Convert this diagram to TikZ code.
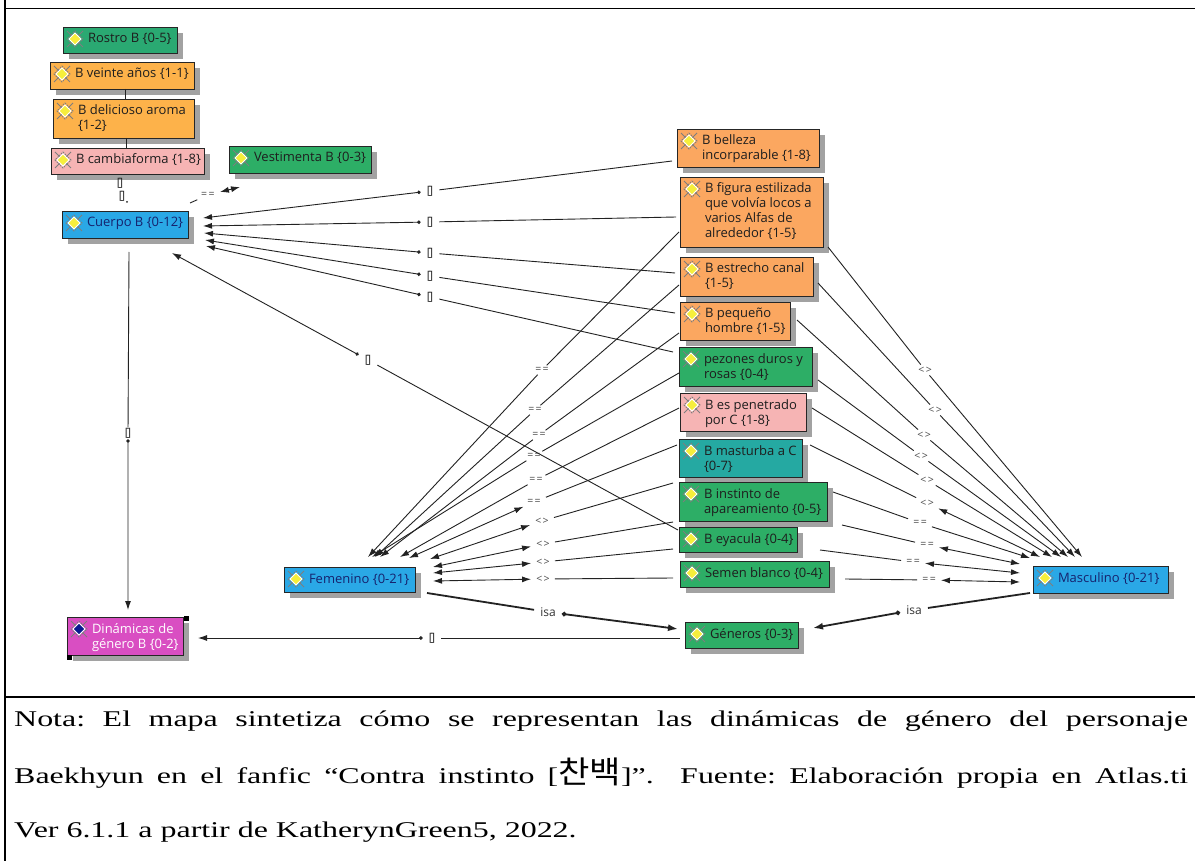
\documentclass[tikz,border=0pt]{standalone}
\usepackage{fontspec}
\setmainfont{Liberation Serif}
\newfontfamily\uifont{Open Sans}
\newfontfamily\capfont[FakeStretch=1.42]{Liberation Serif}
\newfontfamily\krfont[FakeStretch=1.1]{Noto Sans CJK KR}
\usetikzlibrary{arrows.meta,calc}

\definecolor{cGreen}{HTML}{2DAE66}
\definecolor{cGreenR}{HTML}{2AA972}
\definecolor{cOrY}{HTML}{FDB24A}
\definecolor{cOr}{HTML}{FBA760}
\definecolor{cPink}{HTML}{F6B4B4}
\definecolor{cTeal}{HTML}{25A9A2}
\definecolor{cBlue}{HTML}{2AA8E6}
\definecolor{cMag}{HTML}{D94EC2}
\definecolor{cShadow}{HTML}{A2A2A2}
\definecolor{cLine}{HTML}{222222}
\definecolor{cLabel}{HTML}{4A4A4A}
\definecolor{cNavy}{HTML}{16226E}
\definecolor{cTxt}{HTML}{1E1E1E}
\definecolor{cYel}{HTML}{F6EE3C}
\definecolor{cDBlue}{HTML}{0A1890}
\definecolor{cIconG}{HTML}{7E7E7E}

\tikzset{
  boxst/.style={rectangle, draw=black!85, line width=0.9pt, inner sep=0pt, outer sep=0pt},
  ctext/.style={font=\uifont\fontsize{13}{15}\selectfont, inner sep=0pt, outer sep=0pt, align=left},
  conn/.style={draw=cLine, line width=0.9pt},
  arrE/.style={-{Latex[length=9pt,width=6pt]}},
  arrBoth/.style={{Latex[length=9pt,width=6pt]}-{Latex[length=9pt,width=6pt]}},
  arrDot/.style={{Circle[length=3.5pt]}-{Latex[length=9pt,width=6pt]}},
  isaln/.style={draw=cLine, line width=1.8pt, {Circle[length=4.5pt]}-{Latex[length=10pt,width=7pt]}},
  lab/.style={font=\uifont\fontsize{10.5}{12}\selectfont, text=cLabel, inner xsep=5pt, inner ysep=2pt},
  tof/.style={font=\uifont\fontsize{11.5}{12}\selectfont, text=black!85, inner xsep=6pt, inner ysep=1pt},
  isal/.style={font=\uifont\fontsize{12}{13}\selectfont, text=black!80, inner xsep=6pt, inner ysep=1pt},
  icon/.pic={
    \draw[cIconG, line width=1pt] (-8,-8) -- (-3,-3) (8,-8) -- (3,-3)
      (-8,8) -- (-3,3) (8,8) -- (3,3);
    \draw[cIconG, line width=1pt, dash pattern=on 1.5pt off 1pt] (0,-8) -- (8,0) -- (0,8) -- (-8,0) -- cycle;
    \filldraw[fill=#1, draw=white, line width=1pt] (0,-6) -- (6,0) -- (0,6) -- (-6,0) -- cycle;
  }
}

\newcommand\nw[3]{($(#1.north west)+(#2,#3)$)}
\newcommand\tofu{[\kern-1.2pt]}
\newcommand\eqq{=\kern1.5pt=}
\newcommand\neqq{<\kern1.5pt>}
\newcommand\cbox[9]{%
  \fill[cShadow] (#2+6,#3+6) rectangle (#4+6,#5+6);
  \node[boxst, fill=#6, minimum width={#4-#2}, minimum height={#5-#3}] (#1) at ({(#2+#4)/2},{(#3+#5)/2}) {};
  \pic at ($(#1.north west)+(12,12)$) {icon=#9};
  \node[ctext, text=#7, anchor=north west] (#1-t) at ($(#1.north west)+(25,5)$) {\rule{0pt}{11pt}#8};
}

\begin{document}
\begin{tikzpicture}[x=1pt,y=-1pt]
\useasboundingbox (0,0) rectangle (1195,861);
\fill[white] (0,0) rectangle (1195,861);

% frame
\draw[black, line width=1.5pt] (5,0) -- (5,861);
\draw[black, line width=1pt] (5,9) -- (1195,9);
\draw[black, line width=2pt] (5,697) -- (1195,697);

% code boxes
\cbox{rostro}{63}{27}{177}{53}{cGreenR}{cTxt}{Rostro B \{0-5\}}{cYel}
\cbox{veinte}{50}{62}{194}{89}{cOrY}{cTxt}{B veinte años \{1-1\}}{cYel}
\cbox{delicioso}{53}{99}{194}{138}{cOrY}{cTxt}{B delicioso aroma\\\{1-2\}}{cYel}
\cbox{cambia}{51}{148}{204}{174}{cPink}{cTxt}{B cambiaforma \{1-8\}}{cYel}
\cbox{vest}{229}{146}{371}{173}{cGreen}{cTxt}{Vestimenta B \{0-3\}}{cYel}
\cbox{cuerpo}{62}{211}{188}{238}{cBlue}{cNavy}{Cuerpo B \{0-12\}}{cYel}
\cbox{belleza}{677}{129}{819}{167}{cOr}{cTxt}{B belleza\\incorparable \{1-8\}}{cYel}
\cbox{figura}{680}{177}{823}{247}{cOr}{cTxt}{B figura estilizada\\que volvía locos a\\varios Alfas de\\alrededor \{1-5\}}{cYel}
\cbox{estrecho}{680}{257}{813}{296}{cOr}{cTxt}{B estrecho canal\\\{1-5\}}{cYel}
\cbox{pequeno}{680}{302}{790}{340}{cOr}{cTxt}{B pequeño\\hombre \{1-5\}}{cYel}
\cbox{pezones}{679}{347}{812}{386}{cGreen}{cTxt}{pezones duros y\\rosas \{0-4\}}{cYel}
\cbox{penetrado}{680}{393}{806}{431}{cPink}{cTxt}{B es penetrado\\por C \{1-8\}}{cYel}
\cbox{masturba}{679}{439}{802}{477}{cTeal}{cTxt}{B masturba a C\\\{0-7\}}{cYel}
\cbox{instinto}{679}{482}{827}{521}{cGreen}{cTxt}{B instinto de\\apareamiento \{0-5\}}{cYel}
\cbox{eyacula}{679}{527}{797}{552}{cGreen}{cTxt}{B eyacula \{0-4\}}{cYel}
\cbox{semen}{680}{561}{829}{587}{cGreen}{cTxt}{Semen blanco \{0-4\}}{cYel}
\cbox{generos}{685}{622}{798}{648}{cGreen}{cTxt}{Géneros \{0-3\}}{cYel}
\cbox{femenino}{284}{567}{415}{592}{cBlue}{cNavy}{Femenino \{0-21\}}{cYel}
\cbox{masculino}{1033}{566}{1168}{593}{cBlue}{cNavy}{Masculino \{0-21\}}{cYel}
\cbox{dinamicas}{67}{617}{183}{655}{cMag}{white}{Dinámicas de\\género B \{0-2\}}{cDBlue}
\fill[black] (184,616) rectangle (189,621);
\fill[black] (67,655) rectangle (72,660);

% labels
\node[tof] (lc1) at (430,191) {\tofu};
\node[tof] (lc2) at (430,222) {\tofu};
\node[tof] (lc3) at (430,253) {\tofu};
\node[tof] (lc4) at (430,276) {\tofu};
\node[tof] (lc5) at (430,297) {\tofu};
\node[tof] (lc6) at (368,360) {\tofu};
\node[tof] (lcd) at (128,433) {\tofu};
\node[tof] (lgd) at (432,638) {\tofu};
\node[tof] (lcam1) at (120,183) {\tofu};
\node[tof] (lcam2) at (122,196) {\tofu};
\node[lab] (lvest) at (208,195) {\eqq};

\node[lab] (lf1) at (542,370) {\eqq};
\node[lab] (lf2) at (535,410) {\eqq};
\node[lab] (lf3) at (539,435) {\eqq};
\node[lab] (lf4) at (534,456) {\eqq};
\node[lab] (lf5) at (536,480) {\eqq};
\node[lab] (lf6) at (534,502) {\eqq};
\node[lab] (lf7) at (542,521) {\neqq};
\node[lab] (lf8) at (543,544) {\neqq};
\node[lab] (lf9) at (543,562) {\neqq};
\node[lab] (lf10) at (543,579) {\neqq};

\node[lab] (lm1) at (925,370) {\neqq};
\node[lab] (lm2) at (935,410) {\neqq};
\node[lab] (lm3) at (924,435) {\neqq};
\node[lab] (lm4) at (921,456) {\neqq};
\node[lab] (lm5) at (927,480) {\neqq};
\node[lab] (lm6) at (927,503) {\neqq};
\node[lab] (lm7) at (920,523) {\eqq};
\node[lab] (lm8) at (927,545) {\eqq};
\node[lab] (lm9) at (913,562) {\eqq};
\node[lab] (lm10) at (929,580) {\eqq};

\node[isal] (li1) at (548,612) {isa};
\node[isal] (li2) at (914,610) {isa};

% short links in the left column
\draw[conn] \nw{veinte}{75}{27} -- \nw{delicioso}{72}{0};
\draw[conn] \nw{delicioso}{73}{39} -- \nw{cambia}{75}{0};
\fill[cLine] \nw{cuerpo}{65}{-9} circle (1pt);

% Cuerpo links
\draw[conn, arrDot] \nw{belleza}{-5}{32} -- (lc1) -- \nw{cuerpo}{141}{7};
\draw[conn, arrDot] \nw{figura}{-4}{40} -- (lc2) -- \nw{cuerpo}{141}{15};
\draw[conn, arrDot] \nw{estrecho}{-5}{16} -- (lc3) -- \nw{cuerpo}{142}{22};
\draw[conn, arrDot] \nw{pequeno}{-5}{11} -- (lc4) -- \nw{cuerpo}{143}{29};
\draw[conn, arrDot] \nw{pezones}{-6}{5} -- (lc5) -- \nw{cuerpo}{144}{35};
\draw[conn, arrDot] \nw{eyacula}{-1}{3} -- (lc6) -- \nw{cuerpo}{110}{42};
\draw[conn, arrDot] \nw{cuerpo}{67}{41} -- (lcd) -- \nw{dinamicas}{61}{-7};
\draw[conn, arrDot] \nw{generos}{-5}{16} -- (lgd) -- \nw{dinamicas}{131}{21};
\draw[conn, arrBoth] \nw{cuerpo}{128}{-8} -- (lvest) -- \nw{vest}{11}{41};

% Femenino links
\draw[conn, arrE] \nw{figura}{-1}{55} -- (lf1) -- \nw{femenino}{84}{-10};
\draw[conn, arrE] \nw{estrecho}{-1}{28} -- (lf2) -- \nw{femenino}{91}{-10};
\draw[conn, arrE] \nw{pequeno}{-1}{31} -- (lf3) -- \nw{femenino}{96}{-10};
\draw[conn, arrE] \nw{pezones}{0}{26} -- (lf4) -- \nw{femenino}{88}{-10};
\draw[conn, arrE] \nw{penetrado}{-1}{15} -- (lf5) -- \nw{femenino}{116}{-10};
\draw[conn, arrBoth] \nw{masturba}{-2}{6} -- (lf6) -- \nw{femenino}{125}{-9};
\draw[conn, arrBoth] \nw{instinto}{-6}{1} -- (lf7) -- \nw{femenino}{146}{-8};
\draw[conn, arrBoth] \nw{eyacula}{-6}{-5} -- (lf8) -- \nw{femenino}{149}{0};
\draw[conn, arrBoth] \nw{eyacula}{-6}{22} -- (lf9) -- \nw{femenino}{149}{6};
\draw[conn, arrBoth] \nw{semen}{-7}{17} -- (lf10) -- \nw{femenino}{149}{14};

% Masculino links
\draw[conn, arrE] \nw{figura}{148}{70} -- (lm1) -- \nw{masculino}{49}{-9};
\draw[conn, arrE] \nw{estrecho}{138}{26} -- (lm2) -- \nw{masculino}{42}{-9};
\draw[conn, arrE] \nw{pequeno}{117}{18} -- (lm3) -- \nw{masculino}{35}{-9};
\draw[conn, arrE] \nw{pezones}{139}{33} -- (lm4) -- \nw{masculino}{28}{-9};
\draw[conn, arrE] \nw{penetrado}{132}{15} -- (lm5) -- \nw{masculino}{19}{-9};
\draw[conn, arrBoth] \nw{masturba}{131}{6} -- (lm6) -- \nw{masculino}{7}{-9};
\draw[conn, arrE] \nw{instinto}{154}{10} -- (lm7) -- \nw{masculino}{-3}{-8};
\draw[conn, arrBoth] \nw{instinto}{163}{43} -- (lm8) -- \nw{masculino}{-13}{-2};
\draw[conn, arrBoth] \nw{eyacula}{141}{23} -- (lm9) -- \nw{masculino}{-13}{7};
\draw[conn, arrBoth] \nw{semen}{165}{18} -- (lm10) -- \nw{masculino}{-13}{16};

% isa links
\draw[isaln] \nw{femenino}{143}{26} -- (li1) -- \nw{generos}{-7}{7};
\draw[isaln] \nw{masculino}{-3}{27} -- (li2) -- \nw{generos}{128}{6};

% caption
\tikzset{captext/.style={anchor=base west, inner sep=0pt, font=\capfont\fontsize{22.5}{22.5}\selectfont\frenchspacing}}
\node[captext] (cap1) at (14,726)
  {\makebox[1174pt][s]{Nota: El mapa sintetiza cómo se representan las dinámicas de género del personaje}};
\node[captext] (cap2) at (14,783)
  {\makebox[1174pt][s]{Baekhyun en el fanfic “Contra instinto [{\krfont\fontsize{31}{31}\selectfont 찬백}]”.\ \ Fuente: Elaboración propia en Atlas.ti}};
\node[captext] (cap3) at (14,837)
  {Ver 6.1.1 a partir de KatherynGreen5, 2022.};
\end{tikzpicture}
\end{document}
